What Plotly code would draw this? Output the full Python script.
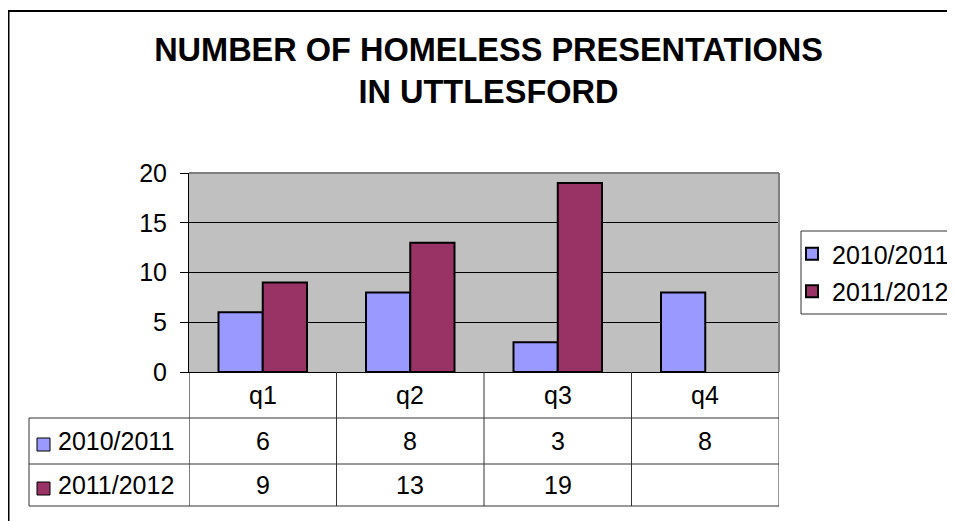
import plotly.graph_objects as go

# ---- data ----
categories = ["q1", "q2", "q3", "q4"]
series_names = ["2010/2011", "2011/2012"]
values_2010_2011 = [6, 8, 3, 8]
values_2011_2012 = [9, 13, 19, None]
y_ticks = [0, 5, 10, 15, 20]
title_lines = ["NUMBER OF HOMELESS PRESENTATIONS", "IN UTTLESFORD"]

# ---- styling / layout (pixel positions as seen on the page) ----
W, H = 955, 521
OFF = 8  # page body margin
colors = ["#9999FF", "#993366"]
FONT = "'Liberation Sans', Arial, sans-serif"
FS = 25
LINE_C = "#333333"

plot_l, plot_r, plot_t, plot_b = 189, 779, 173, 372
tab_l = 29
row_edges = [372, 418, 464, 506]          # header, row1, row2 boundaries


def px(x):
    return (x - OFF) / W


def py(y):
    return 1 - (y - OFF) / H


series_values = [values_2010_2011, values_2011_2012]

fig = go.Figure()
for name, vals, col, grp in zip(series_names, series_values, colors, ["a", "b"]):
    fig.add_trace(go.Bar(
        x=categories, y=vals, name=name, legendgroup=grp,
        marker=dict(color=col, line=dict(color="black", width=2)),
    ))

shapes = []
annotations = []

# plot-area frame (top + right, grey)
shapes.append(dict(type="line", xref="x domain", yref="y domain", x0=0, x1=1, y0=1, y1=1,
                   line=dict(color="#808080", width=2), layer="above"))
shapes.append(dict(type="line", xref="x domain", yref="y domain", x0=1, x1=1, y0=0, y1=1,
                   line=dict(color="#808080", width=2), layer="above"))

# ---- data table ----
n = len(categories)
# vertical lines at category boundaries (through the x axis scale)
for i in range(n + 1):
    shapes.append(dict(type="line", xref="x", yref="paper",
                       x0=i - 0.5, x1=i - 0.5, y0=py(row_edges[0]), y1=py(row_edges[-1]),
                       line=dict(color="black" if i == 0 else LINE_C, width=1)))
# left edge of the series-label column
shapes.append(dict(type="line", xref="paper", yref="paper",
                   x0=px(tab_l), x1=px(tab_l), y0=py(row_edges[1]), y1=py(row_edges[-1]),
                   line=dict(color=LINE_C, width=1)))
# horizontal row lines
for ye in row_edges[1:]:
    shapes.append(dict(type="line", xref="paper", yref="paper",
                       x0=px(tab_l), x1=px(plot_r), y0=py(ye), y1=py(ye),
                       line=dict(color=LINE_C, width=1)))

row_centers = [(row_edges[k] + row_edges[k + 1]) / 2 for k in range(3)]

# header row: categories
for i, c in enumerate(categories):
    annotations.append(dict(xref="x", yref="paper", x=i, y=py(row_centers[0]),
                            text=c, showarrow=False, xanchor="center", yanchor="middle",
                            font=dict(family=FONT, size=FS, color="black")))
# value rows
for r, (name, vals, col) in enumerate(zip(series_names, series_values, colors)):
    yc = row_centers[r + 1]
    for i, v in enumerate(vals):
        if v is None:
            continue
        annotations.append(dict(xref="x", yref="paper", x=i, y=py(yc),
                                text=str(v), showarrow=False, xanchor="center", yanchor="middle",
                                font=dict(family=FONT, size=FS, color="black")))
    # series label + swatch
    annotations.append(dict(xref="paper", yref="paper", x=px(56), y=py(yc),
                            text=name, showarrow=False, xanchor="left", yanchor="middle",
                            font=dict(family=FONT, size=FS, color="black")))
    shapes.append(dict(type="rect", xref="paper", yref="paper",
                       x0=px(37), x1=px(50), y0=py(yc + 10), y1=py(yc - 3),
                       fillcolor=col, line=dict(color="black", width=1)))

# legend frame (runs off the right edge)
shapes.append(dict(type="rect", xref="paper", yref="paper",
                   x0=px(801), x1=1.05, y0=py(314), y1=py(231),
                   line=dict(color=LINE_C, width=1), fillcolor="white", layer="above"))

# outer chart border (runs off the right / bottom edges)
shapes.append(dict(type="rect", xref="paper", yref="paper",
                   x0=0.5 / W, x1=1.02, y0=-0.03, y1=1 - 3 / H,
                   line=dict(color="black", width=2), fillcolor="rgba(0,0,0,0)"))

fig.update_layout(
    width=W, height=H, autosize=False,
    margin=dict(l=0, r=0, t=0, b=0),
    paper_bgcolor="white",
    plot_bgcolor="#C0C0C0",
    barmode="group", bargap=0.4, bargroupgap=0,
    font=dict(family=FONT, size=FS, color="black"),
    title=dict(
        text="<br>".join(title_lines),
        x=480.5 / W, xref="container", xanchor="center",
        y=1 - 52.5 / H, yref="container", yanchor="top",
        font=dict(family=FONT, size=32.5, color="black", weight="bold"),
    ),
    showlegend=True,
    legend=dict(
        x=px(792), xanchor="left", y=py(231), yanchor="top",
        borderwidth=0, bgcolor="rgba(0,0,0,0)",
        font=dict(family=FONT, size=FS, color="black"),
        traceorder="grouped", tracegroupgap=2,
    ),
    xaxis=dict(
        domain=[px(plot_l), px(plot_r)], range=[-0.5, n - 0.5],
        showticklabels=False, ticks="", showgrid=False,
        showline=True, linecolor="black", linewidth=1,
        automargin=False, fixedrange=True,
    ),
    yaxis=dict(
        domain=[py(plot_b), py(plot_t)],
        range=[0, 20], tickvals=y_ticks,
        ticks="outside", ticklen=8, tickcolor="black", tickwidth=1,
        ticklabelstandoff=8,
        showgrid=True, gridcolor="black", gridwidth=1,
        zeroline=True, zerolinecolor="black", zerolinewidth=1,
        showline=True, linecolor="black", linewidth=1,
        tickfont=dict(family=FONT, size=FS, color="black"),
        automargin=False, fixedrange=True,
    ),
    shapes=shapes,
    annotations=annotations,
)

fig.write_html("out.html")
